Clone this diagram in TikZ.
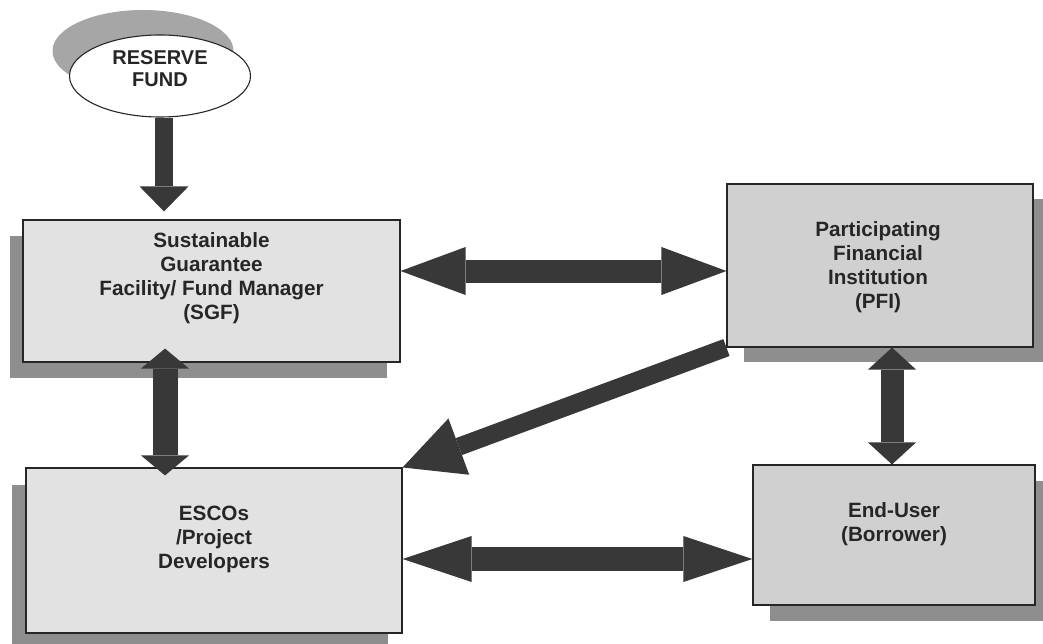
\documentclass[tikz,border=0pt]{standalone}
\usepackage{fontspec}
\setmainfont{Liberation Sans}
\usetikzlibrary{arrows.meta,shapes.geometric,shadows,calc}
\definecolor{boxlight}{HTML}{E2E2E2}
\definecolor{boxmid}{HTML}{D0D0D0}
\definecolor{shade}{HTML}{8E8E8E}
\definecolor{ovalshade}{HTML}{A6A6A6}
\definecolor{arrowc}{HTML}{383838}
\definecolor{txt}{HTML}{262626}
\begin{document}
\begin{tikzpicture}[x=1pt,y=-1pt,
  lbl/.style={font=\bfseries\fontsize{20.7}{24}\selectfont, text=txt, align=center, inner sep=0pt},
  panel/.style={draw=black!85, line width=1.1pt, inner sep=0pt},
  shadowed/.style n args={3}{drop shadow={shadow xshift=#1pt, shadow yshift=#2pt, fill=#3, opacity=1}},
  twohead/.style n args={3}{draw=arrowc, line width=#1pt,
     {Triangle[width=#2pt,length=#3pt,line width=0pt]}-{Triangle[width=#2pt,length=#3pt,line width=0pt]}},
  onehead/.style n args={3}{draw=arrowc, line width=#1pt,
     -{Triangle[width=#2pt,length=#3pt,line width=0pt]}}
]
\useasboundingbox (0,0) rectangle (1043,644);

% nodes
\node[panel, ellipse, fill=white, minimum width=181pt, minimum height=82pt,
      shadowed={-17}{25}{ovalshade}] (reserve) at (160,76) {};
\node[lbl, font=\bfseries\fontsize{20}{22}\selectfont] (reservetext) at ($(reserve.center)+(0,-7)$) {RESERVE\\FUND};

\node[panel, fill=boxlight, minimum width=377pt, minimum height=142pt,
      shadowed={-13}{-16}{shade}] (sgf) at (211.5,291) {};
\node[lbl] (sgftext) at ($(sgf.center)+(0,-13)$) {Sustainable\\Guarantee\\Facility/ Fund Manager\\(SGF)};

\node[panel, fill=boxmid, minimum width=306pt, minimum height=163pt,
      shadowed={17}{-15}{shade}] (pfi) at (880,265.5) {};
\node[lbl] (pfitext) at ($(pfi.center)+(-2,1.5)$) {Participating\\Financial\\Institution\\(PFI)};

\node[panel, fill=boxlight, minimum width=376pt, minimum height=165pt,
      shadowed={-14}{-17}{shade}] (esco) at (214,550.5) {};
\node[lbl] (escotext) at ($(esco.center)+(0,-11)$) {ESCOs\\/Project\\Developers};

\node[panel, fill=boxmid, minimum width=282pt, minimum height=140pt,
      shadowed={17}{-16}{shade}] (user) at (894,535) {};
\node[lbl] (usertext) at ($(user.center)+(0,-10.5)$) {End-User\\(Borrower)};

% connectors
\draw[onehead={18}{49}{25}, shorten >=8pt] (reserve.south -| 164,0) -- (sgf.north -| 164,0);
\draw[twohead={23}{48}{65}] (sgf.east |- 0,271) -- (pfi.west |- 0,271);
\draw[twohead={25}{48}{20}, shorten <=-14pt, shorten >=-8pt] (sgf.south -| 165,0) -- (esco.north -| 165,0);
\draw[twohead={23}{48}{22}] (pfi.south -| 892,0) -- (user.north -| 892,0);
\draw[twohead={24}{46}{69}] (esco.east |- 0,559) -- (user.west |- 0,559);
\draw[onehead={18}{60}{60}] (pfi.south west) -- (esco.north east);
\end{tikzpicture}
\end{document}
